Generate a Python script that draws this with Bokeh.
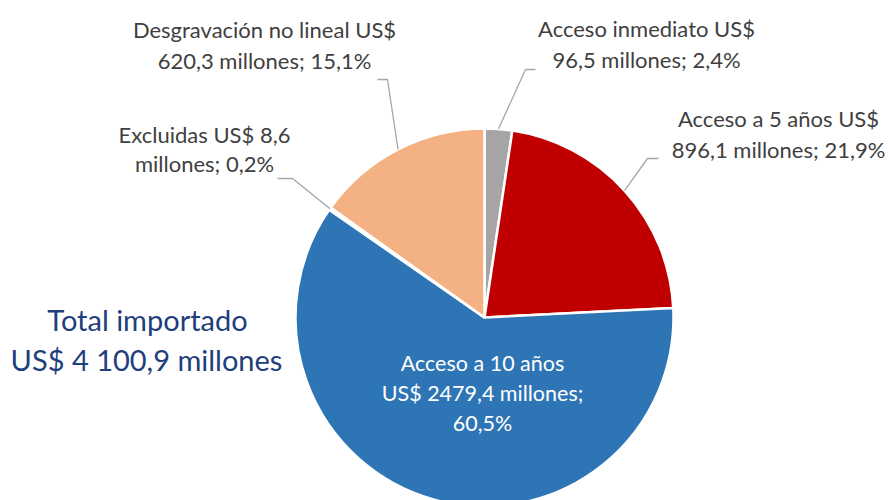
import math
from bokeh.plotting import figure
from bokeh.models import Range1d
from bokeh.core.properties import value
from bokeh.embed import file_html
from bokeh.resources import INLINE

# ---- data ----
categories = ["Acceso inmediato", "Acceso a 5 años", "Acceso a 10 años", "Excluidas", "Desgravación no lineal"]
values_musd = [96.5, 896.1, 2479.4, 8.6, 620.3]
shares_pct = [2.4, 21.9, 60.5, 0.2, 15.1]
label_lines = [
    ["Acceso inmediato US$", "96,5 millones; 2,4%"],
    ["Acceso a 5 años US$", "896,1 millones; 21,9%"],
    ["Acceso a 10 años", "US$ 2479,4 millones;", "60,5%"],
    ["Excluidas US$ 8,6", "millones; 0,2%"],
    ["Desgravación no lineal US$", "620,3 millones; 15,1%"],
]
total_lines = ["Total importado", "US$ 4 100,9 millones"]

# ---- styles / layout ----
colors = ["#A5A5A5", "#C00000", "#2E75B6", "#FFFFFF", "#F4B183"]
W, H = 888, 500
CX, CY = 484, 317          # pie centre in page pixels
R = 189
FONT = "Lato"

def px(x):  # page pixel x -> data x
    return x - CX

def py(y):  # page pixel y -> data y
    return CY - y

p = figure(width=W, height=H, output_backend="svg", toolbar_location=None,
           x_range=Range1d(px(0), px(W)), y_range=Range1d(py(H), py(0)),
           min_border=0, outline_line_color=None)
p.axis.visible = False
p.grid.visible = False
p.background_fill_color = "white"
p.border_fill_color = "white"

total = sum(values_musd)
starts, ends, mids = [], [], []
cum = 0.0
for v in values_musd:
    a0 = cum / total * 2 * math.pi
    cum += v
    a1 = cum / total * 2 * math.pi
    starts.append(math.pi / 2 - a0)
    ends.append(math.pi / 2 - a1)
    mids.append(math.pi / 2 - (a0 + a1) / 2)

p.wedge(x=0, y=0, radius=R, start_angle=starts, end_angle=ends, direction="clock",
        fill_color=colors, line_color="white", line_width=2.5)

# leader lines: label elbow (page px) -> slice middle on rim
elbows = {
    0: [(535, 69), (525, 69)],
    1: [(658, 158), (647, 158)],
    3: [(277, 178), (292, 178)],
    4: [(377, 79), (387, 79)],
}
for i, pts in elbows.items():
    xs = [px(a) for a, b in pts] + [R * math.cos(mids[i])]
    ys = [py(b) for a, b in pts] + [R * math.sin(mids[i])]
    p.line(xs, ys, line_color="#A6A6A6", line_width=1.3)

# label anchor (page px): centre x, y of first line, line spacing
anchors = {
    0: (646, 28, 31),
    1: (778, 118, 31),
    3: (204, 134, 29),
    4: (264, 29, 31),
}
tx, ty, tt = [], [], []
for i, (ax, ay, dy) in anchors.items():
    for k, line in enumerate(label_lines[i]):
        tx.append(px(ax))
        ty.append(py(ay + k * dy))
        tt.append(line)
p.text(x=tx, y=ty, text=tt, text_color="#404040", text_font=value(FONT),
       text_font_size="22px", text_align="center", text_baseline="middle")

ix, iy, idy = 482, 362, 30
p.text(x=[px(ix)] * 3, y=[py(iy + k * idy) for k in range(3)], text=label_lines[2],
       text_color="white", text_font=value(FONT), text_font_size="21.5px",
       text_align="center", text_baseline="middle")

p.text(x=[px(147), px(146)], y=[py(319), py(359)], text=total_lines,
       text_color="#1F3E7C", text_font=value(FONT), text_font_size="29px",
       text_align="center", text_baseline="middle")

open("out.html", "w").write(file_html(p, INLINE))
